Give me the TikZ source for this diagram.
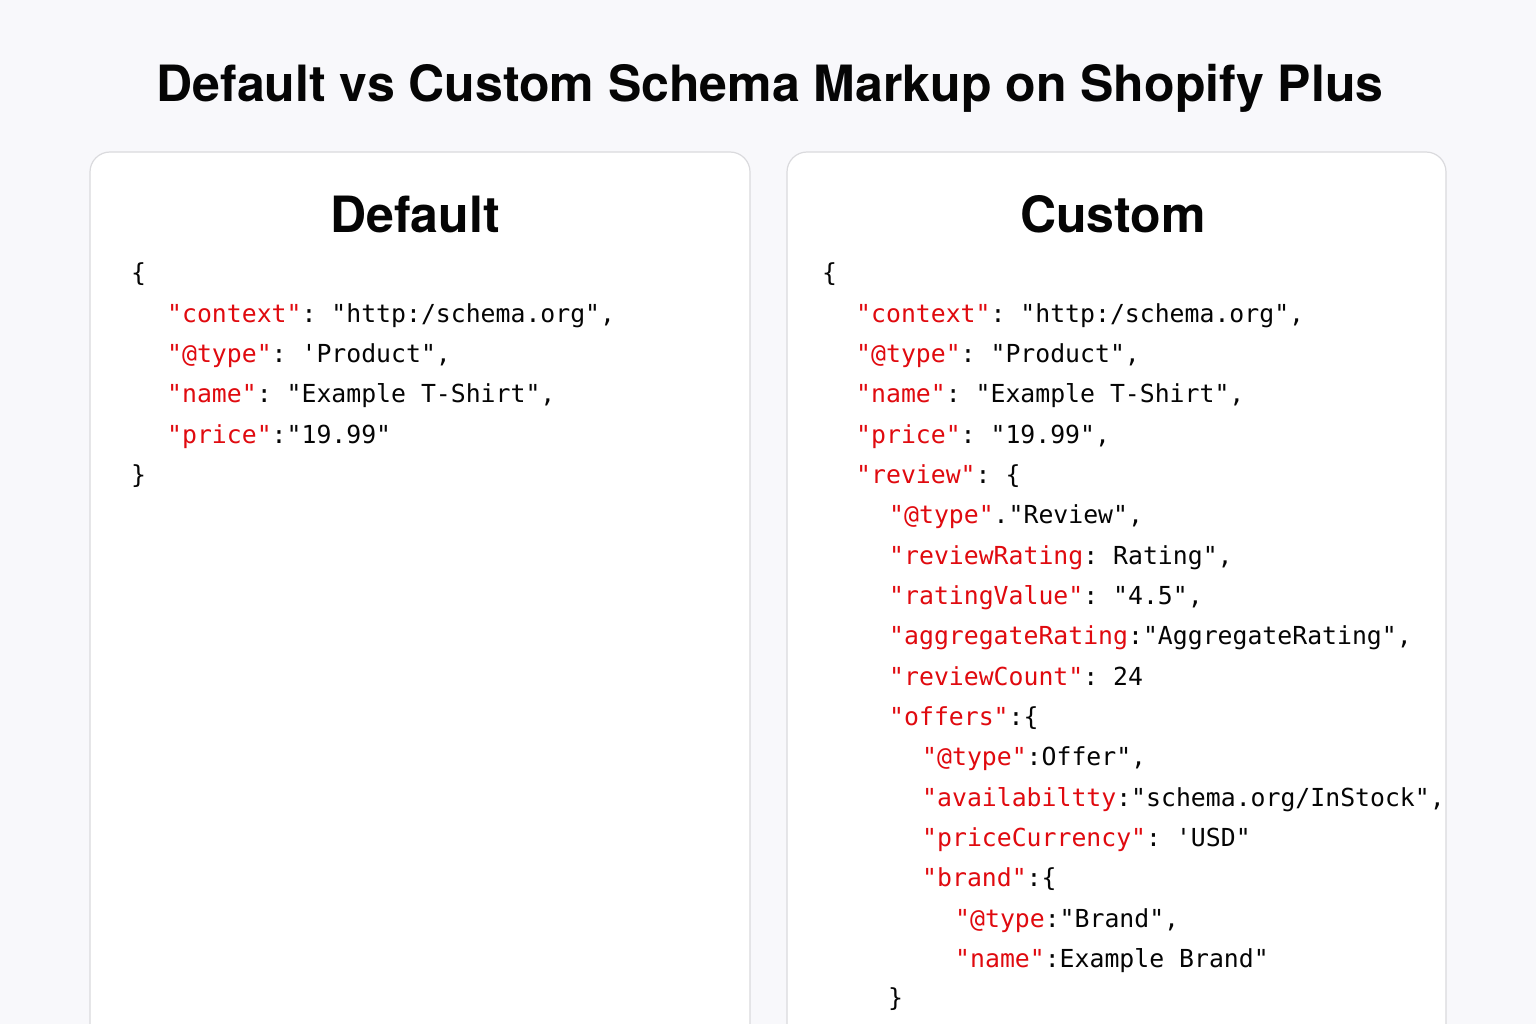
\documentclass[tikz,border=0pt]{standalone}
\usepackage{fontspec}
\setsansfont{TeX Gyre Heros}
\setmonofont{DejaVu Sans Mono}
\definecolor{pagebg}{HTML}{F8F8FB}
\definecolor{panelline}{HTML}{DADADD}
\definecolor{keyred}{HTML}{E00A0F}
\definecolor{ink}{HTML}{050505}
\newcommand{\ky}[1]{\textcolor{keyred}{#1}}
\tikzset{
  panel/.style={draw=panelline, line width=1.2pt, fill=white, rounded corners=20pt},
  maintitle/.style={anchor=base, inner sep=0pt, text=ink, font=\sffamily\bfseries\fontsize{50}{60}\selectfont},
  colhead/.style={anchor=base, inner sep=0pt, text=ink, font=\sffamily\bfseries\fontsize{50}{60}\selectfont},
  code/.style={anchor=base west, inner sep=0pt, text=ink, font=\ttfamily\fontsize{24.8}{30}\selectfont}
}
\begin{document}
\begin{tikzpicture}[x=1pt,y=-1pt]
  \useasboundingbox (0,0) rectangle (1536,1024);
  \clip (0,0) rectangle (1536,1024);
  \fill[pagebg] (0,0) rectangle (1536,1024);
  \node[maintitle] (title) at (770,102) {Default vs Custom Schema Markup on Shopify Plus};
  \draw[panel] (90,152) rectangle (750,1060);
  \draw[panel] (787,152) rectangle (1446,1060);
  \node[colhead] (hdDefault) at (415,233) {Default};
  \node[colhead] (hdCustom) at (1113,233) {Custom};

  \node[code] (d0) at (131,281) {\{};
  \node[code] (d1) at (167,322) {\ky{"context"}: "http:/schema.org",};
  \node[code] (d2) at (167,362) {\ky{"@type"}: 'Product",};
  \node[code] (d3) at (167,402) {\ky{"name"}: "Example T-Shirt",};
  \node[code] (d4) at (167,443) {\ky{"price"}:"19.99"};
  \node[code] (d5) at (131,483) {\}};

  \node[code] (c0) at (822,281) {\{};
  \node[code] (c1) at (856,322) {\ky{"context"}: "http:/schema.org",};
  \node[code] (c2) at (856,362) {\ky{"@type"}: "Product",};
  \node[code] (c3) at (856,402) {\ky{"name"}: "Example T-Shirt",};
  \node[code] (c4) at (856,443) {\ky{"price"}: "19.99",};
  \node[code] (c5) at (856,483) {\ky{"review"}: \{};
  \node[code] (c6) at (889,523) {\ky{"@type"}."Review",};
  \node[code] (c7) at (889,564) {\ky{"reviewRating}: Rating",};
  \node[code] (c8) at (889,604) {\ky{"ratingValue"}: "4.5",};
  \node[code] (c9) at (889,644) {\ky{"aggregateRating}:"AggregateRating",};
  \node[code] (c10) at (889,685) {\ky{"reviewCount"}: 24};
  \node[code] (c11) at (889,725) {\ky{"offers"}:\{};
  \node[code] (c12) at (922,765) {\ky{"@type"}:Offer",};
  \node[code] (c13) at (922,806) {\ky{"availabiltty}:"schema.org/InStock",};
  \node[code] (c14) at (922,846) {\ky{"priceCurrency"}: 'USD"};
  \node[code] (c15) at (922,886) {\ky{"brand"}:\{};
  \node[code] (c16) at (955,927) {\ky{"@type}:"Brand",};
  \node[code] (c17) at (955,967) {\ky{"name"}:Example Brand"};
  \node[code] (c18) at (888,1006) {\}};
\end{tikzpicture}
\end{document}
